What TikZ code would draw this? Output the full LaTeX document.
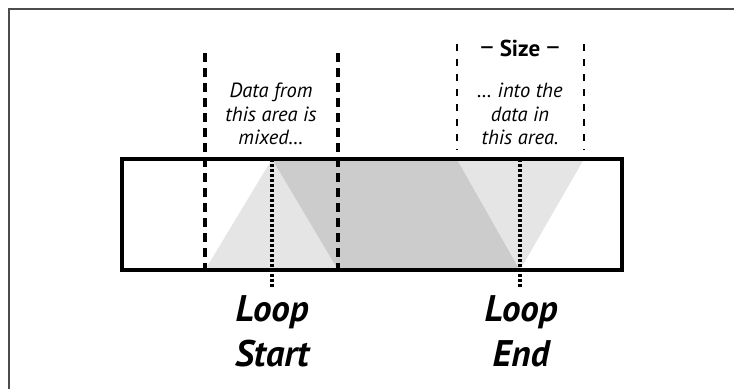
\documentclass[tikz,border=0pt]{standalone}
\usepackage{fontspec}
\setmainfont{PT Sans}
\begin{document}
\begin{tikzpicture}[x=1pt,y=-1pt,
  lightfill/.style={fill=gray!20},
  darkfill/.style={fill=gray!40},
  bigdash/.style={line width=3.8pt,dash pattern=on 9pt off 6pt},
  smalldash/.style={line width=2.5pt,dash pattern=on 7pt off 8pt},
  dotline/.style={line width=3.8pt,dash pattern=on 3pt off 2pt},
  note/.style={font=\fontsize{20.5}{23.5}\selectfont\itshape,align=center,inner sep=0pt},
  bigtxt/.style={font=\fontsize{37}{45}\selectfont\bfseries\itshape,align=center,inner sep=0pt},
  sizetxt/.style={font=\fontsize{23}{26}\selectfont\bfseries,inner sep=0pt}]
\useasboundingbox (0,0) rectangle (734,389);
\draw[line width=1.5pt,black!70] (9,389) -- (9,9) -- (734,9);
% fills
\fill[lightfill] (205,270) -- (272,159) -- (338,270) -- cycle;
\fill[darkfill] (272,159) -- (457,159) -- (520,270) -- (338,270) -- cycle;
\fill[lightfill] (457,159) -- (584,159) -- (520,270) -- cycle;
% coordinates
\coordinate (la) at (205,53);
\coordinate (lb) at (205,270);
\coordinate (ra) at (338,53);
\coordinate (rb) at (338,270);
\coordinate (sa) at (457,44);
\coordinate (sb) at (457,150);
\coordinate (ta) at (584,44);
\coordinate (tb) at (584,150);
\coordinate (d1a) at (272,159);
\coordinate (d1b) at (272,287);
\coordinate (d2a) at (520,159);
\coordinate (d2b) at (520,287);
\draw[bigdash] (la) -- (lb);
\draw[bigdash] (ra) -- (rb);
\draw[smalldash] (sa) -- (sb);
\draw[smalldash] (ta) -- (tb);
\draw[dotline] (d1a) -- (d1b);
\draw[dotline] (d2a) -- (d2b);
% main box
\draw[line width=3.8pt] (122,159) rectangle (622,270);
% texts
\node[note] (mix) at (271,114) {Data from\\this area is\\mixed…};
\node[note] (into) at (520,114) {… into the\\data in\\this area.};
\node[sizetxt] (size) at (520,48) {{\fontsize{27}{27}\selectfont\mdseries\raisebox{0.5pt}{–}}\,Size\,{\fontsize{27}{27}\selectfont\mdseries\raisebox{0.5pt}{–}}};
\node[bigtxt] (start) at (272,331) {Loop\\Start};
\node[bigtxt] (end) at (521,331) {Loop\\End};
\end{tikzpicture}
\end{document}
